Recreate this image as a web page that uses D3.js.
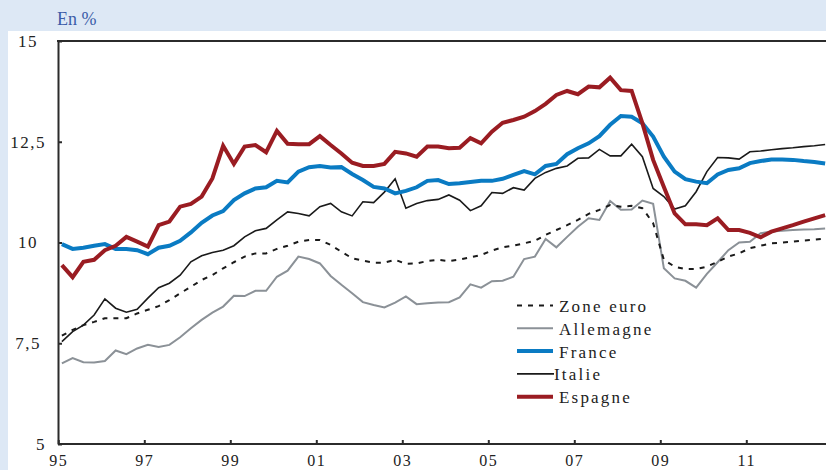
<!DOCTYPE html>
<html>
<head>
<meta charset="utf-8">
<script src="https://cdn.jsdelivr.net/npm/d3@7"></script>
<style>
  body { margin: 0; background: #dde8f5; }
  svg { display: block; font-family: "Liberation Serif", "DejaVu Serif", serif; }
  .axis path, .axis line { stroke: #2b2b2b; stroke-width: 2; }
  .axis text { font-size: 17px; fill: #222; letter-spacing: 1.5px; font-family: "Liberation Serif", serif; }
  .legend text { font-size: 17px; fill: #222; letter-spacing: 2.2px; }
</style>
</head>
<body>
<div id="chart"></div>
<script>
// quarterly data, 1995T1 - 2012T4 (en %)
const zoneEuro = [7.69,7.83,7.95,8.03, 8.12,8.12,8.12,8.24, 8.33,8.42,8.57,8.74, 8.90,9.07,9.19,9.36,
  9.51,9.65,9.73,9.73, 9.84,9.92,10.02,10.06, 10.06,9.94,9.77,9.61, 9.55,9.50,9.50,9.57,
  9.47,9.48,9.54,9.57, 9.54,9.58,9.63,9.69, 9.80,9.88,9.92,9.98, 10.04,10.19,10.31,10.43,
  10.56,10.71,10.81,10.93, 10.89,10.91,10.85,10.48, 9.57,9.40,9.34,9.34, 9.40,9.52,9.65,9.73,
  9.86,9.92,9.98,10.00, 10.02,10.05,10.07,10.10];
const allemagne = [7.00,7.13,7.03,7.02, 7.06,7.32,7.23,7.37, 7.46,7.41,7.46,7.65, 7.87,8.08,8.26,8.41,
  8.68,8.67,8.80,8.80, 9.15,9.30,9.65,9.59, 9.48,9.17,8.95,8.74, 8.52,8.45,8.39,8.51,
  8.66,8.47,8.49,8.51, 8.52,8.64,8.96,8.88, 9.04,9.05,9.15,9.59, 9.65,10.09,9.88,10.14,
  10.39,10.60,10.56,11.03, 10.81,10.82,11.04,10.96, 9.36,9.11,9.05,8.88, 9.22,9.51,9.81,10.00,
  10.02,10.23,10.27,10.29, 10.31,10.32,10.33,10.35];
const france = [9.96,9.84,9.87,9.92, 9.96,9.84,9.84,9.81, 9.71,9.87,9.92,10.04, 10.25,10.49,10.67,10.78,
  11.05,11.22,11.34,11.37, 11.53,11.49,11.76,11.87, 11.90,11.86,11.87,11.70, 11.55,11.38,11.34,11.22,
  11.28,11.37,11.53,11.55, 11.45,11.47,11.50,11.53, 11.53,11.58,11.68,11.77, 11.69,11.90,11.95,12.19,
  12.34,12.46,12.64,12.92, 13.14,13.12,12.96,12.63, 12.13,11.76,11.57,11.51, 11.47,11.69,11.80,11.84,
  11.97,12.02,12.06,12.06, 12.05,12.02,12.00,11.96];
const italie = [7.54,7.79,7.95,8.20, 8.60,8.37,8.27,8.34, 8.62,8.88,8.99,9.19, 9.52,9.67,9.75,9.81,
  9.92,10.14,10.29,10.35, 10.56,10.76,10.72,10.66, 10.89,10.97,10.76,10.66, 11.01,10.99,11.25,11.58,
  10.85,10.97,11.04,11.07, 11.18,11.05,10.79,10.91, 11.24,11.22,11.36,11.30, 11.59,11.74,11.84,11.90,
  12.09,12.10,12.31,12.15, 12.15,12.44,12.13,11.34, 11.14,10.83,10.91,11.26, 11.76,12.11,12.10,12.07,
  12.25,12.27,12.30,12.33, 12.35,12.38,12.40,12.43];
const espagne = [9.44,9.14,9.52,9.57, 9.81,9.92,10.14,10.02, 9.90,10.43,10.52,10.89, 10.96,11.14,11.59,12.40,
  11.95,12.38,12.42,12.24, 12.77,12.45,12.44,12.44, 12.64,12.42,12.21,11.98, 11.90,11.90,11.95,12.25,
  12.21,12.13,12.38,12.38, 12.34,12.35,12.59,12.46, 12.75,12.97,13.04,13.12, 13.26,13.44,13.66,13.76,
  13.68,13.87,13.85,14.09, 13.78,13.76,12.96,12.05, 11.38,10.72,10.45,10.45, 10.43,10.60,10.31,10.31,
  10.24,10.13,10.27,10.35, 10.43,10.52,10.60,10.68];

const seriesNames = ["Zone euro", "Allemagne", "France", "Italie", "Espagne"];
const yTicks = [5, 7.5, 10, 12.5, 15];
const xTicks = [1995, 1997, 1999, 2001, 2003, 2005, 2007, 2009, 2011];

const quarters = [];
for (let yr = 1995; yr <= 2012; yr++)
  for (let q = 1; q <= 4; q++) quarters.push(yr + (q - 1) / 4 + 1 / 12);

const width = 826, height = 470;
const margin = {top: 41, left: 58, bottom: 444};

const styles = {
  "Zone euro": {color: "#1a1a1a", w: 2, dash: "5,6"},
  "Allemagne": {color: "#8b9197", w: 2, dash: null},
  "France":    {color: "#0a7bc3", w: 4, dash: null},
  "Italie":    {color: "#1a1a1a", w: 1.6, dash: null},
  "Espagne":   {color: "#9a1c22", w: 4, dash: null}
};
const values = {"Zone euro": zoneEuro, "Allemagne": allemagne, "France": france, "Italie": italie, "Espagne": espagne};

const x = d3.scaleLinear().domain([1995, 2013]).range([margin.left + 0.3, margin.left + 0.3 + 18 * 43]);
const y = d3.scaleLinear().domain([5, 15]).range([margin.bottom, margin.top]);

const svg = d3.select("#chart").append("svg").attr("width", width).attr("height", height);

svg.append("rect").attr("x", 0).attr("y", 0).attr("width", width).attr("height", height).attr("fill", "#dde8f5");
svg.append("rect").attr("x", 8).attr("y", 31).attr("width", width - 8).attr("height", height - 31).attr("fill", "#fff");

svg.append("text").attr("x", 57).attr("y", 25)
  .attr("font-size", 18).attr("fill", "#3b5ca8").text("En %");

// lines
const line = d3.line().x((d, i) => x(quarters[i])).y(d => y(d));
["Allemagne", "Zone euro", "Italie", "France", "Espagne"].forEach(name => {
  const s = styles[name];
  svg.append("path").datum(values[name])
    .attr("d", line)
    .attr("fill", "none")
    .attr("stroke", s.color)
    .attr("stroke-width", s.w)
    .attr("stroke-linejoin", "miter")
    .attr("stroke-dasharray", s.dash);
});

// axes
const yAxis = svg.append("g").attr("class", "axis")
  .attr("transform", `translate(${margin.left},0)`)
  .call(d3.axisLeft(y).tickValues(yTicks).tickSize(-4).tickSizeOuter(0)
    .tickFormat(d => d3.format(",")(d).replace(".", ",")));
yAxis.selectAll("text").attr("text-anchor", "middle").attr("x", -30);
yAxis.selectAll(".tick").filter(d => d === 5).select("text").attr("x", -17);

const xAxis = svg.append("g").attr("class", "axis")
  .attr("transform", `translate(0,${margin.bottom})`)
  .call(d3.axisBottom(x).tickValues(xTicks).tickSize(-4).tickSizeOuter(0).tickPadding(11)
    .tickFormat(d => String(d).slice(2)));
xAxis.select(".domain").attr("d", `M${margin.left},0H${width}`);
xAxis.selectAll("text").attr("letter-spacing", "2.5px").style("font-size", "16px");

svg.append("line")
  .attr("x1", margin.left - 1).attr("x2", width)
  .attr("y1", margin.top).attr("y2", margin.top)
  .attr("stroke", "#2b2b2b").attr("stroke-width", 2);

// legend
const legend = svg.append("g").attr("class", "legend");
seriesNames.forEach((name, i) => {
  const s = styles[name];
  const ly = 305.5 + i * 22.8;
  legend.append("line")
    .attr("x1", 517).attr("x2", name === "Italie" ? 554 : 553)
    .attr("y1", ly).attr("y2", ly)
    .attr("stroke", s.color).attr("stroke-width", s.w === 1.6 ? 1.8 : s.w)
    .attr("stroke-dasharray", s.dash);
  legend.append("text")
    .attr("x", name === "Italie" ? 554 : 559).attr("y", ly + 6.5)
    .text(name);
});
</script>
</body>
</html>
